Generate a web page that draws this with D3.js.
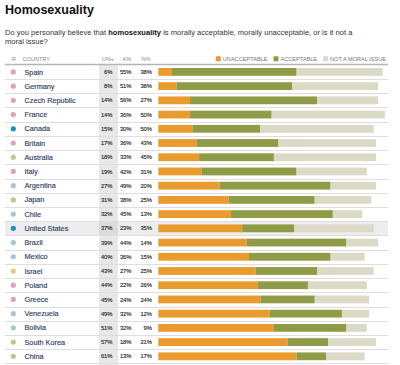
<!DOCTYPE html>
<html><head><meta charset="utf-8">
<script src="https://cdn.jsdelivr.net/npm/d3@7"></script>
<style>
body{margin:0;background:#fff;}
svg{display:block;font-family:"Liberation Sans",Arial,sans-serif;}
</style></head>
<body><svg id="c" width="400" height="365"></svg>
<script>
const countries = ["Spain","Germany","Czech Republic","France","Canada","Britain","Australia","Italy","Argentina","Japan","Chile","United States","Brazil","Mexico","Israel","Poland","Greece","Venezuela","Bolivia","South Korea","China"];
const unacceptable = [6,8,14,14,15,17,18,19,27,31,32,37,39,40,43,44,45,49,51,57,61];
const acceptable   = [55,51,56,36,30,36,33,42,49,38,45,23,44,36,27,22,24,32,32,18,13];
const notMoral     = [38,38,27,50,50,43,45,31,20,25,13,35,14,15,25,26,24,12,9,21,17];
const regions = ["eu","eu","eu","eu","na","eu","ap","eu","la","ap","la","na","la","la","me","eu","eu","la","la","ap","ap"];
const seriesNames = ["UNACCEPTABLE","ACCEPTABLE","NOT A MORAL ISSUE"];
const headers = ["R","COUNTRY","U%","A%","N%"];

const regionColor = {eu:"#d9a6b4", na:"#1c8dc5", ap:"#bccb88", la:"#a9c4d6", me:"#f4c27e"};
const seriesColor = ["#e99b2e","#909b48","#dcd9c7"];

const svg = d3.select("#c");
const data = countries.map((c,i)=>({country:c, region:regions[i], vals:[unacceptable[i],acceptable[i],notMoral[i]]}));

const y = d3.scaleBand().domain(countries).range([64.8, 64.8 + 21*14.22]).paddingInner(0).paddingOuter(0);
const x = d3.scaleLinear().domain([0,100]).range([158.3, 385]);
const barH = 7.8;

// Title
svg.append("text").attr("x",5).attr("y",13.5).attr("font-size",12.5).attr("font-weight","bold").attr("fill","#111").text("Homosexuality");
// Subtitle
const st = svg.append("text").attr("x",5).attr("y",34.5).attr("font-size",7.55).attr("fill","#333");
st.append("tspan").text("Do you personally believe that ");
st.append("tspan").attr("font-weight","bold").attr("fill","#111").text("homosexuality");
st.append("tspan").text(" is morally acceptable, morally unacceptable, or is it not a");
svg.append("text").attr("x",5).attr("y",43.5).attr("font-size",7.55).attr("fill","#333").text("moral issue?");

// number column background
svg.append("rect").attr("x",99).attr("y",64.8).attr("width",19).attr("height",365-64.8).attr("fill","#e8e8e8");

// US highlight
svg.append("rect").attr("x",5).attr("y",y("United States")).attr("width",383).attr("height",y.bandwidth()).attr("fill","#ededed");
svg.append("rect").attr("x",99).attr("y",y("United States")).attr("width",19).attr("height",y.bandwidth()).attr("fill","#dcdcdc");

// headers
const hy = 61.3;
const hdr = svg.append("g").attr("font-size",5.6).attr("fill","#8a8a8a");
hdr.append("text").attr("x",12).attr("y",hy).text(headers[0]);
hdr.append("text").attr("x",22.5).attr("y",hy).text(headers[1]);
hdr.append("text").attr("x",102).attr("y",hy).text(headers[2]);
hdr.append("text").attr("x",110.5).attr("y",hy).attr("font-size",3.5).text("▼");
hdr.append("text").attr("x",122.5).attr("y",hy).text(headers[3]);
hdr.append("text").attr("x",141.5).attr("y",hy).text(headers[4]);

// legend (right aligned)
const leg = svg.append("g").attr("font-size",5.6).attr("fill","#777");
let lx = 386;
for (let k = seriesNames.length-1; k>=0; k--) {
  const t = leg.append("text").attr("y",hy).attr("text-anchor","end").attr("x",lx).text(seriesNames[k]);
  const w = t.node().getComputedTextLength();
  leg.append("rect").attr("x",lx-w-7).attr("y",hy-5).attr("width",5).attr("height",5).attr("fill",seriesColor[k]);
  lx = lx - w - 7 - 6;
}

// header line
svg.append("line").attr("x1",5).attr("x2",388).attr("y1",64.5).attr("y2",64.5).attr("stroke","#b5b5b5").attr("stroke-width",1.3);

// row separators
svg.append("g").selectAll("line").data(countries).join("line")
  .attr("x1",5).attr("x2",388)
  .attr("y1",d=>Math.round(y(d)+y.bandwidth())+0.5).attr("y2",d=>Math.round(y(d)+y.bandwidth())+0.5)
  .attr("stroke","#dedede").attr("stroke-width",1);

const rows = svg.append("g").selectAll("g").data(data).join("g")
  .attr("transform",d=>`translate(0,${y(d.country)+y.bandwidth()/2})`);

rows.append("circle").attr("cx",13.3).attr("cy",0).attr("r",2.6).attr("fill",d=>regionColor[d.region]);
rows.append("text").attr("x",24.5).attr("y",2.6).attr("font-size",7.3).attr("fill","#2f4268")
  .attr("stroke","#2f4268").attr("stroke-width",0.15).text(d=>d.country);

const numX = [112.5,131.5,152];
[0,1,2].forEach(k=>{
  rows.append("text").attr("x",numX[k]).attr("y",2.1).attr("text-anchor","end").attr("font-size",5.8).attr("fill","#222")
    .attr("stroke","#222").attr("stroke-width",0.12)
    .text(d=>d.vals[k]+"%");
});

// stacked bars
const stack = d3.stack().keys([0,1,2]).value((d,k)=>d.vals[k]);
const series = stack(data);
series.forEach((s,k)=>{
  svg.append("g").selectAll("rect").data(s).join("rect")
    .attr("x",d=>x(d[0]))
    .attr("width",d=>x(d[1])-x(d[0]))
    .attr("y",d=>y(d.data.country)+y.bandwidth()/2-barH/2)
    .attr("height",barH)
    .attr("fill",seriesColor[k]);
});
</script></body></html>
